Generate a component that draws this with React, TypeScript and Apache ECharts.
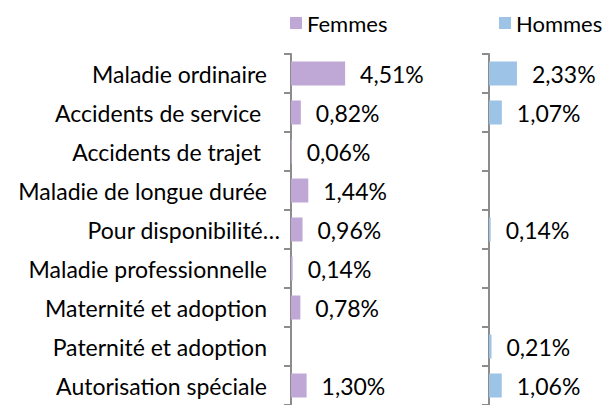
import React, { useEffect, useRef } from "react";
import * as echarts from "echarts";

const categories = [
  "Maladie ordinaire",
  "Accidents de service ",
  "Accidents de trajet ",
  "Maladie de longue durée",
  "Pour disponibilité…",
  "Maladie professionnelle",
  "Maternité et adoption",
  "Paternité et adoption",
  "Autorisation spéciale",
];
const femmes: (number | null)[] = [4.51, 0.82, 0.06, 1.44, 0.96, 0.14, 0.78, null, 1.3];
const hommes: (number | null)[] = [2.33, 1.07, null, null, 0.14, null, null, 0.21, 1.06];

const FONT = "Lato";
const FS = 23;
const LFS = 22;
const AXIS_COLOR = "#8c8c8c";

export default function App() {
  const ref = useRef<HTMLDivElement>(null);
  useEffect(() => {
    const chart = echarts.init(ref.current!, null, { renderer: "svg" });
    const fmt = (p: any) =>
      p.value == null ? "" : `${Number(p.value).toFixed(2).replace(".", ",")}%`;
    const yBase = {
      type: "category" as const,
      data: categories,
      inverse: true,
      axisLine: { show: true, lineStyle: { color: AXIS_COLOR, width: 2 } },
      axisTick: { show: true, length: 7, lineStyle: { color: AXIS_COLOR, width: 2 } },
      splitLine: { show: false },
    };
    const legendBase = {
      top: 7,
      padding: 5,
      itemWidth: 12,
      itemHeight: 12,
      icon: "rect",
      textStyle: { fontFamily: FONT, fontSize: LFS, color: "#000" },
    };
    chart.setOption({
      animation: false,
      textStyle: { fontFamily: FONT },
      legend: [
        { ...legendBase, data: ["Femmes"], left: 285 },
        { ...legendBase, data: ["Hommes"], left: 494 },
      ],
      grid: [
        { left: 291, top: 54, width: 60, height: 354, containLabel: false },
        { left: 489, top: 54, width: 60, height: 354, containLabel: false },
      ],
      xAxis: [
        { type: "value", gridIndex: 0, min: 0, max: 5, show: false },
        { type: "value", gridIndex: 1, min: 0, max: 5, show: false },
      ],
      yAxis: [
        {
          ...yBase,
          gridIndex: 0,
          axisLabel: {
            margin: 11,
            fontFamily: FONT,
            fontSize: FS,
            color: "#000",
            formatter: (v: string) => (v.endsWith("…") ? `{t|${v}}` : `{t|${v}}{s|}`),
            rich: {
              t: { fontFamily: FONT, fontSize: FS, color: "#000" },
              s: { width: 13 },
            },
          },
        },
        { ...yBase, gridIndex: 1, axisLabel: { show: false } },
      ],
      series: [
        {
          name: "Femmes",
          type: "bar",
          xAxisIndex: 0,
          yAxisIndex: 0,
          data: femmes,
          barWidth: 24,
          itemStyle: { color: "#bfa8d5" },
          label: {
            show: true,
            position: "right",
            distance: 15,
            formatter: fmt,
            fontFamily: FONT,
            fontSize: FS,
            color: "#000",
          },
        },
        {
          name: "Hommes",
          type: "bar",
          xAxisIndex: 1,
          yAxisIndex: 1,
          data: hommes,
          barWidth: 24,
          itemStyle: { color: "#9dc3e6" },
          label: {
            show: true,
            position: "right",
            distance: 15,
            formatter: fmt,
            fontFamily: FONT,
            fontSize: FS,
            color: "#000",
          },
        },
      ],
    });
    return () => chart.dispose();
  }, []);
  return (
    <div
      ref={ref}
      style={{ width: 604, height: 405, position: "fixed", left: 0, top: 0, overflow: "hidden", background: "#fff" }}
    />
  );
}
